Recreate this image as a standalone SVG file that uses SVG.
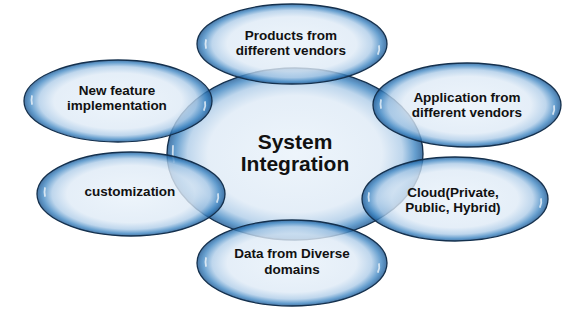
<svg xmlns="http://www.w3.org/2000/svg" width="580" height="309" viewBox="0 0 580 309">
<defs>
<radialGradient id="bub" cx="50%" cy="50%" r="50%">
<stop offset="0%" stop-color="#e9f2fa"/>
<stop offset="68%" stop-color="#deeaf6"/>
<stop offset="84%" stop-color="#aecce8"/>
<stop offset="94%" stop-color="#3f86c2"/>
<stop offset="100%" stop-color="#1a5590"/>
</radialGradient>
<style>
.b{fill:url(#bub);fill-opacity:0.8;stroke:#14304d;stroke-width:1.3}
.h{fill:none;stroke:#ffffff;stroke-width:1.8;stroke-linecap:round;opacity:0.7}
.t{font-family:"Liberation Sans",Arial,sans-serif;font-weight:bold;font-size:13.5px;fill:#111;text-anchor:middle}
.c{font-family:"Liberation Sans",Arial,sans-serif;font-weight:bold;font-size:21px;fill:#111;text-anchor:middle}
</style>
</defs>
<g id="center">
<ellipse class="b" cx="295" cy="154" rx="128" ry="86"/>
<path class="h" d="M173 146 Q172 154 174 162"/>
<text class="c" x="295" y="149">System</text>
<text class="c" x="295" y="171">Integration</text>
</g>
<g id="products">
<ellipse class="b" cx="292" cy="44" rx="95" ry="40"/>
<path class="h" d="M206 40 Q205 44 206 48"/>
<path class="h" d="M379 46 Q380 50 378 54"/>
<text class="t" x="291" y="40">Products from</text>
<text class="t" x="291" y="55">different vendors</text>
</g>
<g id="newfeature">
<ellipse class="b" cx="118" cy="101" rx="94" ry="41"/>
<path class="h" d="M32 96 Q31 100 32 104"/>
<path class="h" d="M205 102 Q206 106 204 110"/>
<text class="t" x="117" y="95">New feature</text>
<text class="t" x="117" y="110">implementation</text>
</g>
<g id="application">
<ellipse class="b" cx="467" cy="105" rx="94" ry="42"/>
<path class="h" d="M381 100 Q380 104 381 108"/>
<path class="h" d="M554 106 Q555 110 553 114"/>
<text class="t" x="467" y="102">Application from</text>
<text class="t" x="467" y="117">different vendors</text>
</g>
<g id="customization">
<ellipse class="b" cx="131" cy="194" rx="94" ry="42"/>
<path class="h" d="M45 188 Q44 192 45 196"/>
<path class="h" d="M218 194 Q219 198 217 202"/>
<text class="t" x="130" y="196">customization</text>
</g>
<g id="cloud">
<ellipse class="b" cx="455" cy="199" rx="93" ry="42"/>
<path class="h" d="M369 193 Q368 197 369 201"/>
<path class="h" d="M541 199 Q542 203 540 207"/>
<text class="t" x="453" y="197">Cloud(Private,</text>
<text class="t" x="453" y="212">Public, Hybrid)</text>
</g>
<g id="data">
<ellipse class="b" cx="292" cy="263" rx="95" ry="43"/>
<path class="h" d="M206 258 Q205 262 206 266"/>
<path class="h" d="M379 264 Q380 268 378 272"/>
<text class="t" x="292" y="258">Data from Diverse</text>
<text class="t" x="292" y="274">domains</text>
</g>
<g id="connectors"></g>
</svg>
